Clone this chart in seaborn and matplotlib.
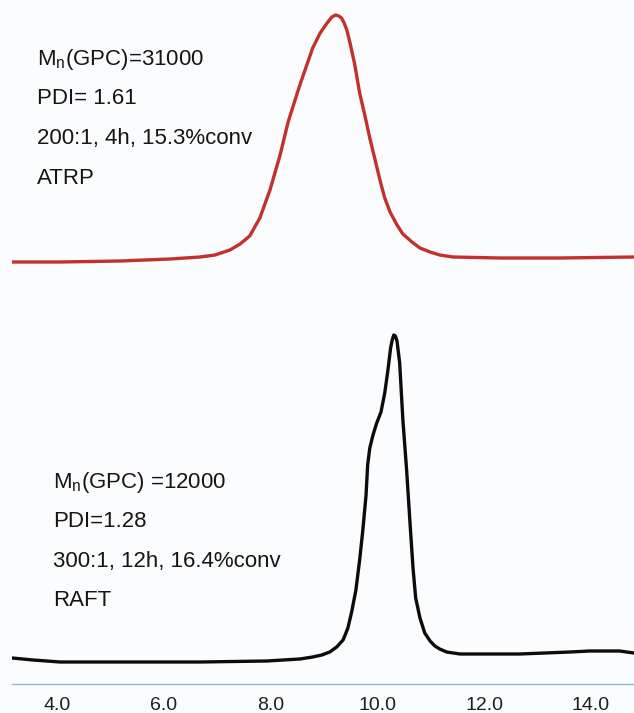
import matplotlib
matplotlib.use("Agg")
import matplotlib.pyplot as plt
import seaborn as sns
import pandas as pd

# ---- data (elution time vs. detector signal, stacked traces) ----
atrp_time = [3.16, 4.06, 5.18, 6.12, 6.68, 6.96, 7.24, 7.43, 7.61, 7.80, 7.99, 8.18,
             8.33, 8.46, 8.55, 8.68, 8.79, 8.93, 9.06, 9.15, 9.22, 9.28, 9.33, 9.38,
             9.43, 9.49, 9.58, 9.67, 9.77, 9.86, 9.96, 10.05, 10.14, 10.24, 10.37, 10.48,
             10.65, 10.80, 10.99, 11.17, 11.42, 12.30, 13.42, 14.81]
atrp_signal = [422, 422, 423, 425, 427, 429, 434, 440, 448, 466, 494, 529,
               562, 584, 599, 619, 636, 651, 661, 667, 669, 668, 666, 661,
               654, 641, 619, 591, 568, 546, 524, 504, 486, 472, 459, 450,
               442, 436, 432, 429, 427, 426, 426, 427]

raft_time = [3.16, 3.55, 4.06, 5.42, 6.68, 7.93, 8.55, 8.79, 8.96, 9.11, 9.24, 9.36,
             9.45, 9.52, 9.60, 9.67, 9.73, 9.79, 9.82, 9.86, 9.92, 9.99, 10.07, 10.14,
             10.20, 10.25, 10.28, 10.31, 10.34, 10.37, 10.42, 10.48, 10.55, 10.61,
             10.67, 10.72, 10.80, 10.89, 10.99, 11.08, 11.17, 11.30, 11.55, 12.05,
             12.67, 13.61, 13.98, 14.54, 14.81]
raft_signal = [26, 24, 22, 22, 22, 23, 25, 27, 29, 32, 37, 44,
               56, 72, 94, 124, 154, 189, 219, 236, 249, 261, 272, 291,
               314, 336, 344, 349, 348, 343, 321, 264, 214, 164,
               116, 86, 66, 51, 43, 38, 35, 32, 30, 30,
               30, 32, 33, 33, 31]

tick_values = [4.0, 6.0, 8.0, 10.0, 12.0, 14.0]
tick_labels = ["4.0", "6.0", "8.0", "10.0", "12.0", "14.0"]

atrp_text = [r"M$_\mathregular{n}$(GPC)=31000", "PDI= 1.61", "200:1, 4h, 15.3%conv", "ATRP"]
raft_text = [r"M$_\mathregular{n}$(GPC) =12000", "PDI=1.28", "300:1, 12h, 16.4%conv", "RAFT"]

df = pd.concat([
    pd.DataFrame({"time": atrp_time, "signal": atrp_signal, "trace": "ATRP"}),
    pd.DataFrame({"time": raft_time, "signal": raft_signal, "trace": "RAFT"}),
], ignore_index=True)

sns.set_theme(style="white")
plt.rcParams["font.family"] = ["Liberation Sans", "DejaVu Sans"]
plt.rcParams["mathtext.fontset"] = "custom"
plt.rcParams["mathtext.rm"] = "Liberation Sans"

W, H = 634, 713
fig = plt.figure(figsize=(W / 100, H / 100), dpi=100, facecolor="#fbfcfd")
ax = fig.add_axes([12 / W, (H - 684) / H, 1 - 12 / W, 684 / H])
ax.set_facecolor("none")

sns.lineplot(data=df, x="time", y="signal", hue="trace", units="trace",
             estimator=None, sort=False, ax=ax, legend=False,
             palette={"ATRP": "#c3302e", "RAFT": "#0c0c0c"}, linewidth=2.4)
for ln in ax.lines:
    ln.set_solid_joinstyle("round")
    ln.set_solid_capstyle("round")

ax.set_xlim(3.157, 14.81)
ax.set_ylim(0, 684)
ax.set_xlabel("")
ax.set_ylabel("")
ax.set_yticks([])
ax.set_xticks(tick_values)
ax.set_xticklabels(tick_labels)
ax.tick_params(axis="x", direction="out", length=3, width=1, color="#8db9d2",
               pad=6, labelsize=14, labelcolor="#1e1e1e")
for s in ["top", "left", "right"]:
    ax.spines[s].set_visible(False)
ax.spines["bottom"].set_color("#8db9d2")
ax.spines["bottom"].set_linewidth(1.0)

def px_text(x_px, base_px, s):
    fig.text(x_px / W, 1 - base_px / H, s, fontsize=16, color="#151515",
             ha="left", va="baseline")

for i, s in enumerate(atrp_text):
    px_text(37, 65 + 39.5 * i, s)
for i, s in enumerate(raft_text):
    px_text(53, 488 + 39.3 * i, s)

fig.savefig("out.png", dpi=100, facecolor=fig.get_facecolor())
